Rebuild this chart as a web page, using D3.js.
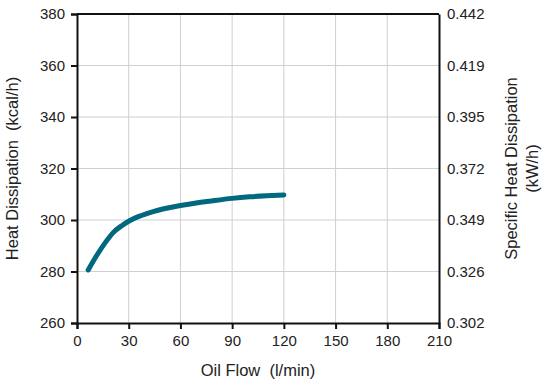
<!DOCTYPE html>
<meta charset="utf-8">
<script src="https://d3js.org/d3.v7.min.js"></script>
<style>
  body { margin: 0; background: #fff; }
  text { font-family: "Liberation Sans", Arial, sans-serif; fill: #222; }
</style>
<div id="chart"></div>
<script>
// curve
var oilFlow = [6.5, 11.5, 16.5, 21, 26, 30.5, 35.5, 40.5, 47, 60, 70, 80, 90, 100, 110, 120];
var heat    = [280.6, 286.3, 291.3, 295.1, 297.8, 299.7, 301.3, 302.5, 303.8, 305.6, 306.7, 307.6, 308.4, 309.0, 309.4, 309.7];

var xTicks = [0, 30, 60, 90, 120, 150, 180, 210];
var yTicks = [260, 280, 300, 320, 340, 360, 380];
var kwLabels = ["0.302", "0.326", "0.349", "0.372", "0.395", "0.419", "0.442"];

var margin = {top: 14, right: 109, bottom: 61, left: 77},
    width = 548 - margin.left - margin.right,
    height = 384 - margin.top - margin.bottom;

var svg = d3.select("#chart").append("svg")
    .attr("width", 548).attr("height", 384)
  .append("g")
    .attr("transform", "translate(" + margin.left + "," + margin.top + ")");

var x = d3.scaleLinear().domain([0, 210]).range([0, width]);
var y = d3.scaleLinear().domain([260, 380]).range([height, 0]);

// grid
svg.append("g").selectAll("line").data(xTicks.slice(1, -1)).enter().append("line")
    .attr("x1", d => x(d)).attr("x2", d => x(d))
    .attr("y1", 0).attr("y2", height)
    .attr("stroke", "#cfcfcf").attr("stroke-width", 1);
svg.append("g").selectAll("line").data(yTicks.slice(1, -1)).enter().append("line")
    .attr("y1", d => y(d)).attr("y2", d => y(d))
    .attr("x1", 0).attr("x2", width)
    .attr("stroke", "#cfcfcf").attr("stroke-width", 1);

// axes
var xAxis = svg.append("g")
    .attr("transform", "translate(0," + height + ")")
    .call(d3.axisBottom(x).tickValues(xTicks).tickSize(6).tickPadding(6));
var yAxis = svg.append("g")
    .call(d3.axisLeft(y).tickValues(yTicks).tickSize(6).tickPadding(6));
var yRight = svg.append("g")
    .attr("transform", "translate(" + width + ",0)")
    .call(d3.axisRight(y).tickValues(yTicks).tickSize(0).tickPadding(8)
      .tickFormat((d, i) => kwLabels[i]));

[xAxis, yAxis, yRight].forEach(function(g) {
  g.select(".domain").attr("stroke", "#111").attr("stroke-width", 2);
  g.selectAll(".tick line").attr("stroke", "#111").attr("stroke-width", 2);
  g.selectAll(".tick text").attr("font-size", 15).attr("fill", "#222")
    .style("font-family", "'Liberation Sans', Arial, sans-serif");
});

// top border
svg.append("line")
    .attr("x1", 0).attr("x2", width).attr("y1", 0).attr("y2", 0)
    .attr("stroke", "#111").attr("stroke-width", 2);

// the curve
svg.append("path")
    .datum(oilFlow.map((d, i) => [d, heat[i]]))
    .attr("fill", "none")
    .attr("stroke", "#00687f")
    .attr("stroke-width", 5)
    .attr("stroke-linecap", "round")
    .attr("d", d3.line().x(d => x(d[0])).y(d => y(d[1])).curve(d3.curveMonotoneX));

// titles
svg.append("text")
    .attr("x", width / 2).attr("y", height + 53)
    .attr("text-anchor", "middle").attr("font-size", 16.5)
    .attr("xml:space", "preserve")
    .text("Oil Flow  (l/min)");

svg.append("text")
    .attr("transform", "translate(-59," + (height / 2) + ") rotate(-90)")
    .attr("text-anchor", "middle").attr("font-size", 16.5)
    .attr("xml:space", "preserve")
    .text("Heat Dissipation  (kcal/h)");

svg.append("text")
    .attr("transform", "translate(" + (width + 78) + "," + (height / 2) + ") rotate(-90)")
    .attr("text-anchor", "middle").attr("font-size", 16.5)
    .text("Specific Heat Dissipation");
svg.append("text")
    .attr("transform", "translate(" + (width + 99) + "," + (height / 2) + ") rotate(-90)")
    .attr("text-anchor", "middle").attr("font-size", 16.5)
    .text("(kW/h)");
</script>
